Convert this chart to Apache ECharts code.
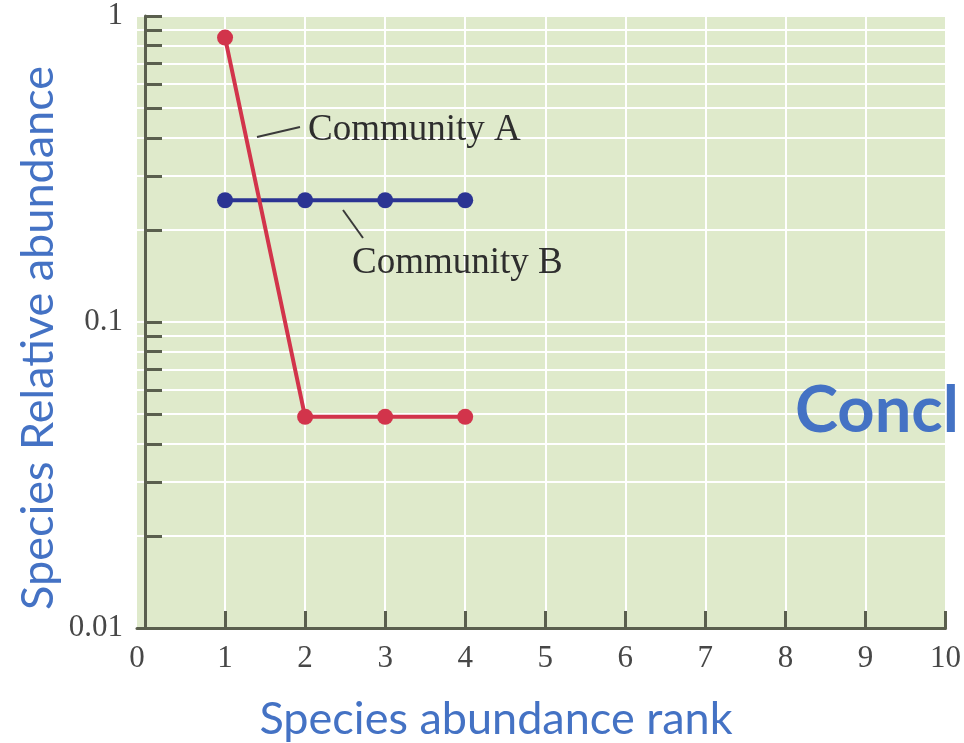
<!DOCTYPE html>
<html><head><meta charset="utf-8">
<script src="https://cdn.jsdelivr.net/npm/echarts@6/dist/echarts.min.js"></script>
<style>html,body{margin:0;padding:0;background:#fff}#c{width:964px;height:743px}</style>
</head><body><div id="c"></div>
<script>
// ---- data ----
const ranks = [1, 2, 3, 4];
const communityA = [0.85, 0.049, 0.049, 0.049];
const communityB = [0.25, 0.25, 0.25, 0.25];
const xTickValues = [1, 2, 3, 4, 5, 6, 7, 8, 9, 10];
const xTickLabels = ['0', '1', '2', '3', '4', '5', '6', '7', '8', '9', '10'];
const yMajorValues = [0.01, 0.1, 1];
const yAllTickValues = [0.01, 0.02, 0.03, 0.04, 0.05, 0.06, 0.07, 0.08, 0.09,
                        0.1, 0.2, 0.3, 0.4, 0.5, 0.6, 0.7, 0.8, 0.9, 1];
const seriesNames = ['Community A', 'Community B'];
const yTitle = 'Species Relative abundance';
const xTitle = 'Species abundance rank';
const sideText = 'Concl';

// ---- styles ----
const axisColor = '#5a5f4e';
const labelColor = '#474747';
const bg = '#dfeacb';
const redC = '#d2344b';
const blueC = '#2b3493';
const serif = '"Liberation Serif", "DejaVu Serif", serif';
const sans = 'Lato, "Open Sans", sans-serif';
const xMin = -0.1;

const chart = echarts.init(document.getElementById('c'), null, {renderer: 'canvas'});
chart.setOption({
  animation: false,
  backgroundColor: '#ffffff',
  grid: {left: 137, right: 16, top: 16, bottom: 115, show: true, backgroundColor: bg, borderWidth: 0, containLabel: false},
  xAxis: {
    type: 'value', min: xMin, max: 10,
    axisLine: {show: true, lineStyle: {color: axisColor, width: 3}},
    axisTick: {show: true, inside: true, length: 17, lineStyle: {color: axisColor, width: 3}, customValues: xTickValues},
    axisLabel: {
      customValues: [xMin].concat(xTickValues),
      formatter: v => v < 0.5 ? xTickLabels[0] : xTickLabels[Math.round(v)],
      color: labelColor, fontFamily: serif, fontSize: 31, margin: 15
    },
    splitLine: {show: true, lineStyle: {color: '#ffffff', width: 2}},
    minorTick: {show: false}
  },
  yAxis: {
    type: 'log', logBase: 10, min: 0.01, max: 1,
    axisLine: {show: true, lineStyle: {color: axisColor, width: 3}},
    axisTick: {show: true, inside: true, length: 17, lineStyle: {color: axisColor, width: 3}, customValues: yAllTickValues},
    axisLabel: {
      customValues: yMajorValues,
      formatter: v => String(v),
      color: labelColor, fontFamily: serif, fontSize: 31, margin: 14
    },
    splitLine: {show: true, lineStyle: {color: '#ffffff', width: 2}}
  },
  series: [
    {
      name: seriesNames[0], type: 'line', symbol: 'circle', symbolSize: 16,
      data: ranks.map((r, i) => [r, communityA[i]]),
      lineStyle: {color: redC, width: 4}, itemStyle: {color: redC}, z: 5
    },
    {
      name: seriesNames[1], type: 'line', symbol: 'circle', symbolSize: 16,
      data: ranks.map((r, i) => [r, communityB[i]]),
      lineStyle: {color: blueC, width: 4}, itemStyle: {color: blueC}, z: 4
    }
  ],
  graphic: [
    {type: 'line', shape: {x1: 257, y1: 137, x2: 300, y2: 127}, style: {stroke: '#3a3a3a', lineWidth: 2}, z: 10},
    {type: 'text', x: 308, y: 130, style: {text: seriesNames[0], font: '37px ' + serif, fill: '#2e2e2e', textAlign: 'left', textVerticalAlign: 'middle'}, z: 10},
    {type: 'line', shape: {x1: 343, y1: 210, x2: 363, y2: 238}, style: {stroke: '#3a3a3a', lineWidth: 2}, z: 10},
    {type: 'text', x: 352, y: 263, style: {text: seriesNames[1], font: '37px ' + serif, fill: '#2e2e2e', textAlign: 'left', textVerticalAlign: 'middle'}, z: 10},
    {type: 'text', x: 38, y: 338, rotation: Math.PI / 2, style: {text: yTitle, font: '45px ' + sans, fill: '#4472c4', textAlign: 'center', textVerticalAlign: 'middle'}, z: 10},
    {type: 'text', x: 496, y: 719, style: {text: xTitle, font: '45px ' + sans, fill: '#4472c4', textAlign: 'center', textVerticalAlign: 'middle'}, z: 10},
    {type: 'text', x: 795, y: 411, style: {text: sideText, font: 'bold 65px ' + sans, fill: '#4472c4', textAlign: 'left', textVerticalAlign: 'middle'}, z: 10}
  ]
});
</script></body></html>
